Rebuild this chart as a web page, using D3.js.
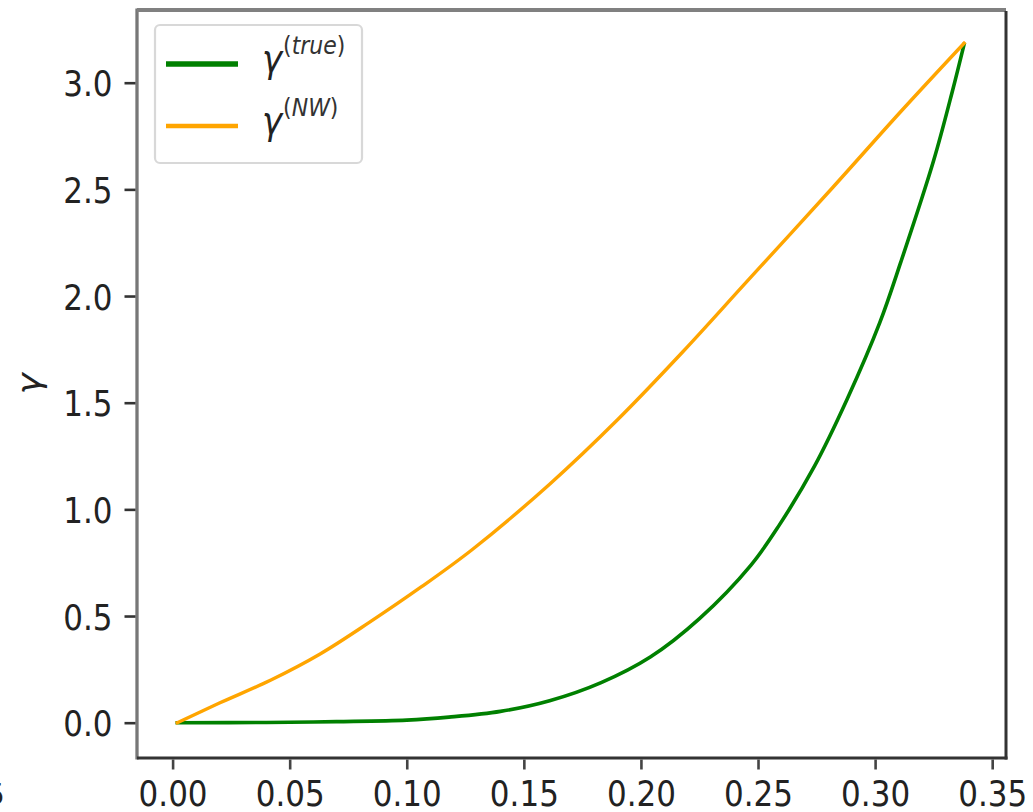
<!DOCTYPE html>
<html>
<head>
<meta charset="utf-8">
<script src="https://cdn.jsdelivr.net/npm/d3@7"></script>
<style>
  html, body { margin: 0; padding: 0; background: #fff; }
  svg { display: block; }
  text { font-family: "DejaVu Sans", sans-serif; fill: #222; }
</style>
</head>
<body>
<svg id="chart" width="1033" height="812"></svg>
<script>
// gamma(true): sampled reference curve
const trueX = [0.002, 0.040, 0.070, 0.100, 0.118, 0.140, 0.161, 0.183, 0.204, 0.225, 0.247, 0.259, 0.274, 0.288, 0.302, 0.311, 0.325, 0.333, 0.338];
const trueY = [0.000, 0.001, 0.005, 0.012, 0.026, 0.053, 0.103, 0.188, 0.308, 0.488, 0.739, 0.925, 1.200, 1.515, 1.875, 2.160, 2.635, 2.960, 3.180];

// gamma(NW): Nadaraya-Watson estimate
const nwX = [0.002, 0.020, 0.042, 0.063, 0.084, 0.106, 0.128, 0.161, 0.190, 0.218, 0.245, 0.282, 0.311, 0.338];
const nwY = [0.000, 0.092, 0.200, 0.322, 0.470, 0.635, 0.812, 1.118, 1.420, 1.740, 2.065, 2.510, 2.865, 3.185];

const xTicks = [0.00, 0.05, 0.10, 0.15, 0.20, 0.25, 0.30, 0.35];
const yTicks = [0.0, 0.5, 1.0, 1.5, 2.0, 2.5, 3.0];

const seriesNames = ["true", "NW"];
const seriesColors = ["#008000", "#ffa500"];

const svg = d3.select("#chart");
const plotLeft = 137, plotRight = 1006, plotTop = 10, plotBottom = 758;

const x = d3.scaleLinear().domain([-0.0152, 0.3559]).range([plotLeft, plotRight]);
const y = d3.scaleLinear().domain([-0.1655, 3.3408]).range([plotBottom, plotTop]);

const fontSize = 31;
const stretch = 1.12;

// curves
const line = d3.line()
  .x(d => x(d[0]))
  .y(d => y(d[1]))
  .curve(d3.curveCatmullRom.alpha(0.5));

const plot = svg.append("g");
plot.append("path")
  .datum(trueX.map((v, i) => [v, trueY[i]]))
  .attr("d", line)
  .attr("fill", "none")
  .attr("stroke", seriesColors[0])
  .attr("stroke-width", 3.6)
  .attr("stroke-linejoin", "round")
  .attr("stroke-linecap", "square");

plot.append("path")
  .datum(nwX.map((v, i) => [v, nwY[i]]))
  .attr("d", line)
  .attr("fill", "none")
  .attr("stroke", seriesColors[1])
  .attr("stroke-width", 3.4)
  .attr("stroke-linejoin", "round")
  .attr("stroke-linecap", "square");

// spines
svg.append("line").attr("x1", plotLeft).attr("x2", plotLeft).attr("y1", plotTop - 1.5).attr("y2", plotBottom + 1.5)
  .attr("stroke", "#777").attr("stroke-width", 3.3);
svg.append("line").attr("x1", plotLeft).attr("x2", plotRight).attr("y1", plotTop).attr("y2", plotTop)
  .attr("stroke", "#808080").attr("stroke-width", 4);
svg.append("line").attr("x1", plotRight).attr("x2", plotRight).attr("y1", plotTop + 1).attr("y2", plotBottom + 1.5)
  .attr("stroke", "#333").attr("stroke-width", 3);
svg.append("line").attr("x1", plotLeft).attr("x2", plotRight + 1.5).attr("y1", plotBottom).attr("y2", plotBottom)
  .attr("stroke", "#333").attr("stroke-width", 3);

// x axis
const xAxis = d3.axisBottom(x).tickValues(xTicks).tickSize(10).tickPadding(0)
  .tickFormat(d3.format(".2f"));
const gx = svg.append("g").attr("transform", `translate(0,${plotBottom + 1.5})`).call(xAxis);
gx.select(".domain").remove();
gx.selectAll(".tick line").attr("stroke", "#444").attr("stroke-width", 2.6);
gx.selectAll(".tick text")
  .attr("y", 0).attr("dy", null)
  .attr("font-size", fontSize)
  .attr("fill", "#222")
  .attr("font-family", "DejaVu Sans, sans-serif")
  .attr("transform", `translate(0,46) scale(1,${stretch})`);

// y axis
const yAxis = d3.axisLeft(y).tickValues(yTicks).tickSize(11).tickPadding(0)
  .tickFormat(d3.format(".1f"));
const gy = svg.append("g").attr("transform", `translate(${plotLeft - 1.5},0)`).call(yAxis);
gy.select(".domain").remove();
gy.selectAll(".tick line").attr("stroke", "#333").attr("stroke-width", 2.6);
gy.selectAll(".tick text")
  .attr("x", 0).attr("dy", null)
  .attr("font-size", fontSize)
  .attr("fill", "#222")
  .attr("font-family", "DejaVu Sans, sans-serif")
  .attr("transform", `translate(-23,13) scale(1,${stretch})`);

// y label
svg.append("text")
  .attr("transform", `translate(40,${(plotTop + plotBottom) / 2}) rotate(-90) scale(${stretch},1)`)
  .attr("text-anchor", "middle")
  .attr("font-size", 32)
  .attr("font-style", "italic")
  .text("γ");

// fragment of a neighbouring tick label at the far left edge
svg.append("text")
  .attr("x", 5).attr("y", 805)
  .attr("text-anchor", "end")
  .attr("font-size", fontSize)
  .attr("fill", "#333")
  .text("5");

// legend
const legend = svg.append("g");
legend.append("rect")
  .attr("x", 155).attr("y", 25).attr("width", 207).attr("height", 138)
  .attr("rx", 5).attr("ry", 5)
  .attr("fill", "#fff").attr("fill-opacity", 0.8)
  .attr("stroke", "#d8d8d8").attr("stroke-width", 2.2);

const rowY = [64, 126];
seriesNames.forEach((name, i) => {
  legend.append("line")
    .attr("x1", 166).attr("x2", 238)
    .attr("y1", rowY[i]).attr("y2", rowY[i])
    .attr("stroke", seriesColors[i])
    .attr("stroke-width", i === 0 ? 5.5 : 4.5);
  const t = legend.append("text")
    .attr("transform", `translate(262,${rowY[i] + 8}) scale(1,${stretch})`)
    .attr("font-size", 34);
  t.append("tspan").attr("font-style", "italic").text("γ");
  t.append("tspan").attr("font-size", 22).attr("dy", -16).attr("dx", 1).attr("fill", "#333").text("(");
  t.append("tspan").attr("font-size", 22).attr("font-style", "italic").attr("fill", "#333").text(name);
  t.append("tspan").attr("font-size", 22).attr("fill", "#333").text(")");
});
</script>
</body>
</html>
